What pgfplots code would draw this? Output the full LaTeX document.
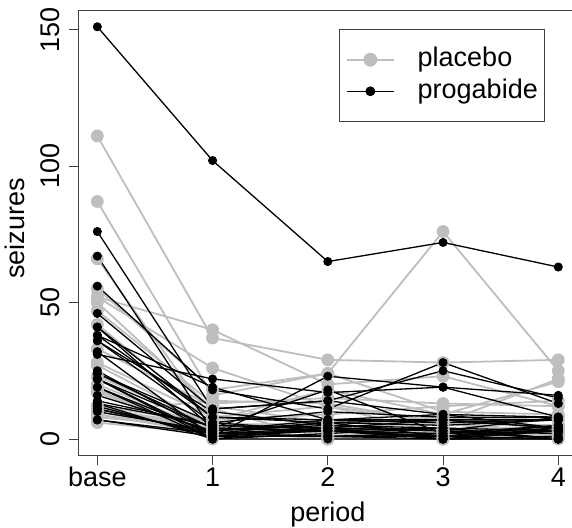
\documentclass[border=0pt]{standalone}
\usepackage{fontspec}
\setmainfont{Liberation Sans}
\usepackage{pgfplots}
\pgfplotsset{compat=1.18}
\definecolor{rgray}{HTML}{BEBEBE}
\pgfplotsset{
 pl/.style={rgray, line width=0.9pt, mark=*, mark size=3pt, mark options={solid,line width=0.4pt}, forget plot},
 pr/.style={black, line width=0.65pt, mark=*, mark size=2.05pt, mark options={solid,line width=0.4pt}, forget plot},
 legpl/.style={legend image code/.code={\path[draw=none,fill=none] (0pt,-0.1pt) rectangle (35.35pt,0.1pt); \draw[rgray, line width=0.9pt] (0pt,0pt) -- (23.35pt,0pt); \fill[rgray] (11.675pt,0pt) circle (3.2pt);}},
 legpr/.style={legend image code/.code={\path[draw=none,fill=none] (0pt,-0.1pt) rectangle (35.35pt,0.1pt); \draw[black, line width=0.65pt] (0pt,0pt) -- (23.35pt,0pt); \fill[black] (11.675pt,0pt) circle (2.2pt);}},
}
\begin{document}
\begin{tikzpicture}
\begin{axis}[at={(39.45pt,36.25pt)}, anchor=south west, scale only axis,
 width=248.9pt, height=222.6pt,
 xmin=-0.16, xmax=4.16, ymin=-6.04, ymax=157.04,
 axis line style={line width=0.5pt, black!75},
 tick style={line width=0.5pt, black!75},
 tick align=outside, major tick length=5pt,
 xtick={0,1,2,3,4}, xticklabels={base,1,2,3,4},
 ytick={0,50,100,150}, yticklabels={0,50,100,150},
 xtick pos=bottom, ytick pos=left,
 /pgf/number format/assume math mode=true,
 every tick label/.append style={font=\fontsize{13.5}{16}\selectfont},
 xticklabel style={anchor=base, yshift=-10.6pt},
 yticklabel style={rotate=90, anchor=base, yshift=4.6pt},
 xlabel={period}, ylabel={seizures},
 label style={font=\fontsize{13.5}{16}\selectfont},
 xlabel style={at={(axis description cs:0.5,-0.1482)}, anchor=base},
 ylabel style={at={(axis description cs:-0.1083,0.51)}, anchor=base},
 legend style={at={(0.5225,0.958)}, anchor=north west, draw=black!75, line width=0.5pt,
   font=\fontsize{13.5}{16}\selectfont, inner xsep=3.3pt, inner ysep=8.6pt,
   nodes={inner sep=0pt, text height=10pt, text depth=3pt, text width=60pt, align=left},
   row sep=2.8pt, column sep=0pt},
 legend cell align=left,
]
% placebo
\addplot[pl] coordinates {(0,11)(1,5)(2,3)(3,3)(4,3)};
\addplot[pl] coordinates {(0,11)(1,3)(2,5)(3,3)(4,3)};
\addplot[pl] coordinates {(0,6)(1,2)(2,4)(3,0)(4,5)};
\addplot[pl] coordinates {(0,8)(1,4)(2,4)(3,1)(4,4)};
\addplot[pl] coordinates {(0,66)(1,7)(2,18)(3,9)(4,21)};
\addplot[pl] coordinates {(0,27)(1,5)(2,2)(3,8)(4,7)};
\addplot[pl] coordinates {(0,12)(1,6)(2,4)(3,0)(4,2)};
\addplot[pl] coordinates {(0,52)(1,40)(2,20)(3,23)(4,12)};
\addplot[pl] coordinates {(0,23)(1,5)(2,6)(3,6)(4,5)};
\addplot[pl] coordinates {(0,10)(1,14)(2,13)(3,6)(4,0)};
\addplot[pl] coordinates {(0,52)(1,26)(2,12)(3,6)(4,22)};
\addplot[pl] coordinates {(0,33)(1,12)(2,6)(3,8)(4,4)};
\addplot[pl] coordinates {(0,18)(1,4)(2,4)(3,6)(4,2)};
\addplot[pl] coordinates {(0,42)(1,7)(2,9)(3,12)(4,14)};
\addplot[pl] coordinates {(0,87)(1,16)(2,24)(3,10)(4,9)};
\addplot[pl] coordinates {(0,50)(1,11)(2,0)(3,0)(4,5)};
\addplot[pl] coordinates {(0,18)(1,0)(2,0)(3,3)(4,3)};
\addplot[pl] coordinates {(0,111)(1,37)(2,29)(3,28)(4,29)};
\addplot[pl] coordinates {(0,18)(1,3)(2,5)(3,2)(4,5)};
\addplot[pl] coordinates {(0,20)(1,3)(2,0)(3,6)(4,7)};
\addplot[pl] coordinates {(0,12)(1,3)(2,4)(3,3)(4,4)};
\addplot[pl] coordinates {(0,9)(1,3)(2,4)(3,3)(4,4)};
\addplot[pl] coordinates {(0,17)(1,2)(2,3)(3,3)(4,5)};
\addplot[pl] coordinates {(0,28)(1,8)(2,12)(3,2)(4,8)};
\addplot[pl] coordinates {(0,55)(1,18)(2,24)(3,76)(4,25)};
\addplot[pl] coordinates {(0,9)(1,2)(2,1)(3,2)(4,1)};
\addplot[pl] coordinates {(0,10)(1,3)(2,1)(3,4)(4,2)};
\addplot[pl] coordinates {(0,47)(1,13)(2,15)(3,13)(4,12)};
% progabide
\addplot[pr] coordinates {(0,76)(1,11)(2,14)(3,9)(4,8)};
\addplot[pr] coordinates {(0,38)(1,8)(2,7)(3,9)(4,4)};
\addplot[pr] coordinates {(0,19)(1,0)(2,4)(3,3)(4,0)};
\addplot[pr] coordinates {(0,10)(1,3)(2,6)(3,1)(4,3)};
\addplot[pr] coordinates {(0,19)(1,2)(2,6)(3,7)(4,4)};
\addplot[pr] coordinates {(0,24)(1,4)(2,3)(3,1)(4,3)};
\addplot[pr] coordinates {(0,31)(1,22)(2,17)(3,19)(4,16)};
\addplot[pr] coordinates {(0,14)(1,5)(2,4)(3,7)(4,4)};
\addplot[pr] coordinates {(0,11)(1,2)(2,4)(3,0)(4,4)};
\addplot[pr] coordinates {(0,67)(1,3)(2,7)(3,7)(4,7)};
\addplot[pr] coordinates {(0,41)(1,4)(2,18)(3,2)(4,5)};
\addplot[pr] coordinates {(0,7)(1,2)(2,1)(3,1)(4,0)};
\addplot[pr] coordinates {(0,22)(1,0)(2,2)(3,4)(4,0)};
\addplot[pr] coordinates {(0,13)(1,5)(2,4)(3,0)(4,3)};
\addplot[pr] coordinates {(0,46)(1,11)(2,14)(3,25)(4,15)};
\addplot[pr] coordinates {(0,36)(1,10)(2,5)(3,3)(4,8)};
\addplot[pr] coordinates {(0,38)(1,19)(2,7)(3,6)(4,7)};
\addplot[pr] coordinates {(0,7)(1,1)(2,1)(3,2)(4,3)};
\addplot[pr] coordinates {(0,36)(1,6)(2,10)(3,8)(4,8)};
\addplot[pr] coordinates {(0,11)(1,2)(2,1)(3,0)(4,0)};
\addplot[pr] coordinates {(0,151)(1,102)(2,65)(3,72)(4,63)};
\addplot[pr] coordinates {(0,22)(1,4)(2,3)(3,2)(4,4)};
\addplot[pr] coordinates {(0,41)(1,8)(2,6)(3,5)(4,7)};
\addplot[pr] coordinates {(0,32)(1,1)(2,3)(3,1)(4,5)};
\addplot[pr] coordinates {(0,56)(1,18)(2,11)(3,28)(4,13)};
\addplot[pr] coordinates {(0,24)(1,6)(2,3)(3,4)(4,0)};
\addplot[pr] coordinates {(0,16)(1,3)(2,5)(3,4)(4,3)};
\addplot[pr] coordinates {(0,22)(1,1)(2,23)(3,19)(4,8)};
\addplot[pr] coordinates {(0,25)(1,2)(2,3)(3,0)(4,1)};
\addplot[pr] coordinates {(0,13)(1,0)(2,0)(3,0)(4,0)};
\addplot[pr] coordinates {(0,12)(1,1)(2,4)(3,3)(4,2)};
\addlegendimage{legpl}
\addlegendentry{placebo}
\addlegendimage{legpr}
\addlegendentry{progabide}
\end{axis}
\pgfresetboundingbox
\useasboundingbox (0,0) rectangle (286pt,264pt);
\end{tikzpicture}
\end{document}
